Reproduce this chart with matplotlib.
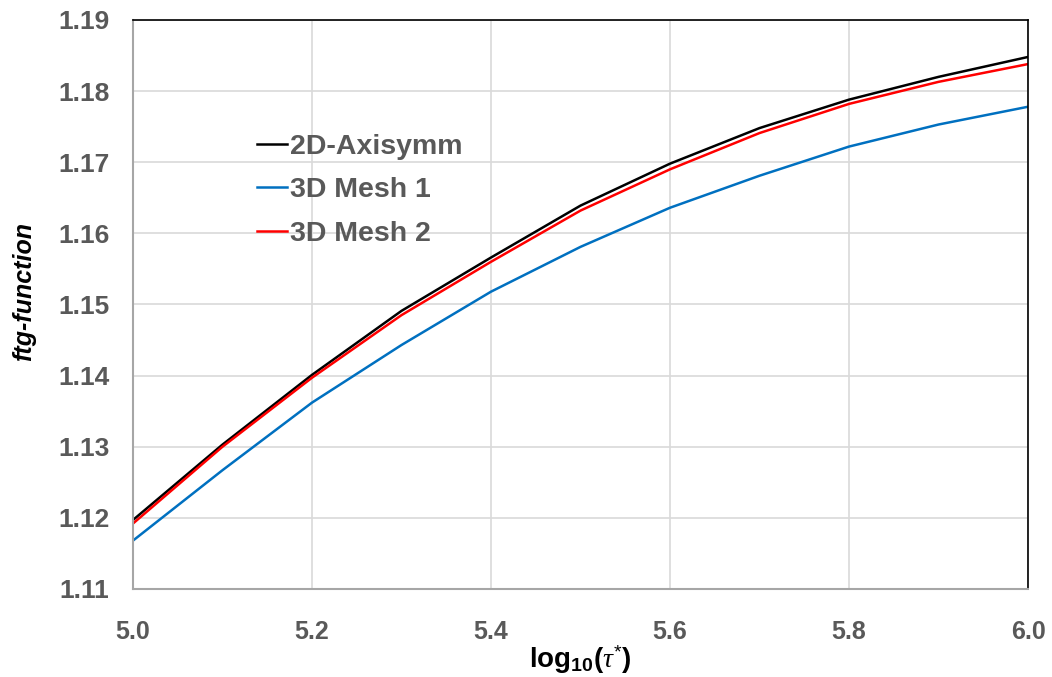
import matplotlib
matplotlib.use("Agg")
import matplotlib.pyplot as plt
import numpy as np

# values
log_tau = [5.0, 5.1, 5.2, 5.3, 5.4, 5.5, 5.6, 5.7, 5.8, 5.9, 6.0]
axisymm_2d = [1.1197, 1.1303, 1.1401, 1.1491, 1.1566, 1.1639, 1.1698, 1.1748, 1.1788, 1.1820, 1.1848]
mesh1_3d = [1.1168, 1.1267, 1.1362, 1.1443, 1.1518, 1.1581, 1.1636, 1.1681, 1.1722, 1.1753, 1.1778]
mesh2_3d = [1.1192, 1.1300, 1.1397, 1.1485, 1.1560, 1.1632, 1.1690, 1.1741, 1.1782, 1.1813, 1.1838]

xticks = [5.0, 5.2, 5.4, 5.6, 5.8, 6.0]
yticks = [1.11, 1.12, 1.13, 1.14, 1.15, 1.16, 1.17, 1.18, 1.19]

plt.rcParams['font.family'] = ['Liberation Sans', 'DejaVu Sans']
plt.rcParams['mathtext.fontset'] = 'custom'
plt.rcParams['mathtext.rm'] = 'Liberation Sans'
plt.rcParams['mathtext.bf'] = 'Liberation Sans:bold'
plt.rcParams['mathtext.it'] = 'Liberation Serif:italic'

fig = plt.figure(figsize=(10.52, 6.77), dpi=100)
ax = fig.add_axes([0.1264, 0.130, 0.8508, 0.8405])

ax.plot(log_tau, axisymm_2d, color='black', lw=1.8, label='2D-Axisymm')
ax.plot(log_tau, mesh1_3d, color='#0070C0', lw=1.8, label='3D Mesh 1')
ax.plot(log_tau, mesh2_3d, color='#FF0000', lw=1.8, label='3D Mesh 2')

ax.set_xlim(5.0, 6.0)
ax.set_ylim(1.11, 1.19)
ax.set_xticks(xticks)
ax.set_yticks(yticks)
ax.set_xticklabels(['%.1f' % v for v in xticks], fontsize=18, fontweight='bold')
ax.set_yticklabels(['%.2f' % v for v in yticks], fontsize=19, fontweight='bold')
ax.tick_params(length=0, labelcolor='#595959')
ax.tick_params(axis='y', pad=17)
ax.tick_params(axis='x', pad=22)

ax.grid(True, color='#d9d9d9', lw=1.2)
ax.set_axisbelow(True)
for s in ['left', 'bottom']:
    ax.spines[s].set_color('#a6a6a6')
    ax.spines[s].set_linewidth(1.5)
for s in ['top', 'right']:
    ax.spines[s].set_color('black')
    ax.spines[s].set_linewidth(1.2)

ax.set_xlabel(r'log$_{\mathbf{10}}$($\tau^{*}$)', fontsize=20, fontweight='bold', labelpad=0)
ax.set_ylabel('ftg-function', fontsize=18, fontweight='bold', style='italic')
ax.yaxis.set_label_coords(-0.108, 0.522)

leg = ax.legend(loc='upper left', bbox_to_anchor=(0.1385, 0.80), frameon=False,
                borderpad=0, borderaxespad=0,
                handlelength=1.05, handletextpad=0.1, labelspacing=0.62,
                prop={'size': 20.5, 'weight': 'bold'})
for t in leg.get_texts():
    t.set_color('#595959')

fig.savefig('out.png', dpi=100)
